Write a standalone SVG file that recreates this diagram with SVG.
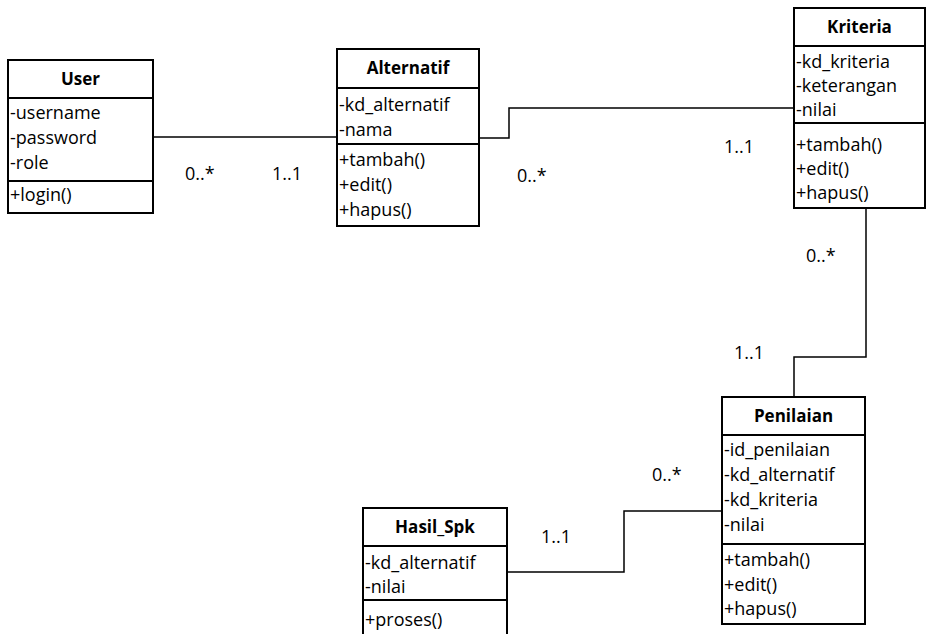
<svg xmlns="http://www.w3.org/2000/svg" width="927" height="634" viewBox="0 0 927 634">
<style>
.box{fill:#fff;stroke:#000;stroke-width:2}
.div{stroke:#000;stroke-width:2}
.t{font-family:"Open Sans","Liberation Sans",Arial,sans-serif;font-size:18px;fill:#000}
.h{font-family:"Open Sans","Liberation Sans",Arial,sans-serif;font-size:17px;font-weight:bold;fill:#000;text-anchor:middle}
.c{fill:none;stroke:#000;stroke-width:1.5}
</style>
<rect width="927" height="634" fill="#fff"/>
<g id="connectors">
<polyline class="c" points="153,137 337,137"/>
<polyline class="c" points="479,138 509,138 509,108 794,108"/>
<polyline class="c" points="866,208 866,357 794,357 794,397"/>
<polyline class="c" points="507,572 624,572 624,511 722,511"/>
<text class="t" x="185" y="180">0..*</text>
<text class="t" x="272" y="180">1..1</text>
<text class="t" x="517" y="182">0..*</text>
<text class="t" x="724" y="153">1..1</text>
<text class="t" x="806" y="262">0..*</text>
<text class="t" x="734" y="359">1..1</text>
<text class="t" x="541" y="543">1..1</text>
<text class="t" x="652" y="481">0..*</text>
</g>
<g id="user">
<rect class="box" x="8" y="60" width="145" height="153"/>
<line class="div" x1="8" y1="98" x2="153" y2="98"/>
<line class="div" x1="8" y1="181" x2="153" y2="181"/>
<text class="h" x="80.5" y="85">User</text>
<text class="t" x="10" y="119">-username</text>
<text class="t" x="10" y="144">-password</text>
<text class="t" x="10" y="169">-role</text>
<text class="t" x="10" y="201">+login()</text>
</g>
<g id="alternatif">
<rect class="box" x="337" y="49" width="142" height="177"/>
<line class="div" x1="337" y1="88" x2="479" y2="88"/>
<line class="div" x1="337" y1="144" x2="479" y2="144"/>
<text class="h" x="408" y="74">Alternatif</text>
<text class="t" x="339" y="111">-kd_alternatif</text>
<text class="t" x="339" y="136">-nama</text>
<text class="t" x="339" y="166">+tambah()</text>
<text class="t" x="339" y="191">+edit()</text>
<text class="t" x="339" y="216">+hapus()</text>
</g>
<g id="kriteria">
<rect class="box" x="794" y="8" width="131" height="200"/>
<line class="div" x1="794" y1="46" x2="925" y2="46"/>
<line class="div" x1="794" y1="123" x2="925" y2="123"/>
<text class="h" x="859.5" y="33">Kriteria</text>
<text class="t" x="796" y="68">-kd_kriteria</text>
<text class="t" x="796" y="92">-keterangan</text>
<text class="t" x="796" y="116">-nilai</text>
<text class="t" x="796" y="151">+tambah()</text>
<text class="t" x="796" y="175">+edit()</text>
<text class="t" x="796" y="199">+hapus()</text>
</g>
<g id="penilaian">
<rect class="box" x="722" y="397" width="143" height="227"/>
<line class="div" x1="722" y1="435" x2="865" y2="435"/>
<line class="div" x1="722" y1="544" x2="865" y2="544"/>
<text class="h" x="793.5" y="422">Penilaian</text>
<text class="t" x="724" y="456">-id_penilaian</text>
<text class="t" x="724" y="481">-kd_alternatif</text>
<text class="t" x="724" y="506">-kd_kriteria</text>
<text class="t" x="724" y="531">-nilai</text>
<text class="t" x="724" y="566">+tambah()</text>
<text class="t" x="724" y="591">+edit()</text>
<text class="t" x="724" y="615">+hapus()</text>
</g>
<g id="hasil_spk">
<rect class="box" x="363" y="508" width="144" height="140"/>
<line class="div" x1="363" y1="546" x2="507" y2="546"/>
<line class="div" x1="363" y1="600" x2="507" y2="600"/>
<text class="h" x="435" y="533">Hasil_Spk</text>
<text class="t" x="365" y="569">-kd_alternatif</text>
<text class="t" x="365" y="593">-nilai</text>
<text class="t" x="365" y="626">+proses()</text>
</g>
</svg>
